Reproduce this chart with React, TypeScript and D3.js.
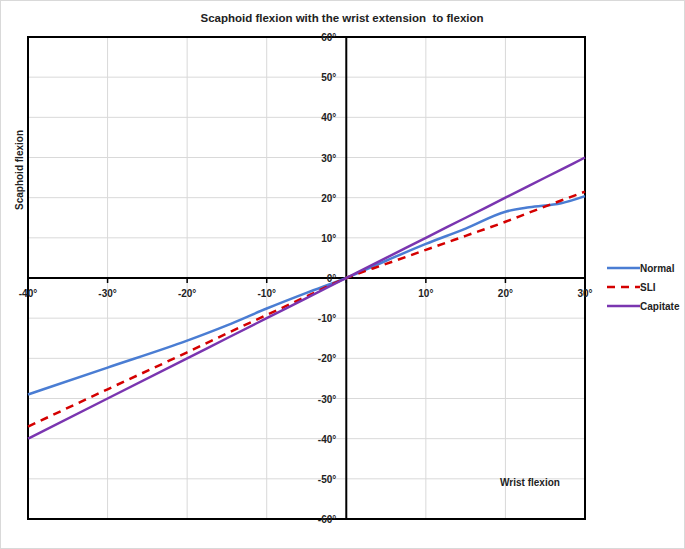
import React, { useRef, useEffect } from "react";
import * as d3 from "d3";

const wristAngles = [-40, -30, -20, -15, -10, -5, 0, 5, 10, 15, 20, 23, 27, 30];
const normalValues = [-29, -22.3, -15.6, -11.8, -7.6, -3.7, 0, 4.3, 8.5, 12.3, 16.5, 17.6, 18.6, 20.4];
const sliValues = [-37, -27.7, -18.5, -13.8, -9.2, -4.6, 0, 3.5, 7, 10.5, 14, 16.3, 19.3, 21.5];
const capitateValues = [-40, -30, -20, -15, -10, -5, 0, 5, 10, 15, 20, 23, 27, 30];

const seriesNames = ["Normal", "SLI", "Capitate"];
const seriesColors = ["#4a7dd3", "#d40000", "#7a35b0"];
const xTicks = [-40, -30, -20, -10, 0, 10, 20, 30];
const yTicks = [-60, -50, -40, -30, -20, -10, 0, 10, 20, 30, 40, 50, 60];

const App = () => {
  const ref = useRef<SVGSVGElement>(null);

  useEffect(() => {
    const svg = d3.select(ref.current);
    svg.selectAll("*").remove();

    const width = 685;
    const height = 549;
    const margin = { top: 37, right: 100, bottom: 30, left: 28 };
    const font = "'Liberation Sans', Arial, sans-serif";

    svg.attr("width", width).attr("height", height).style("font-family", font);

    svg
      .append("rect")
      .attr("x", 0.5)
      .attr("y", 0.5)
      .attr("width", width - 1)
      .attr("height", height - 1)
      .attr("fill", "white")
      .attr("stroke", "#d9d9d9");

    const x = d3.scaleLinear().domain([-40, 30]).range([margin.left, width - margin.right]);
    const y = d3.scaleLinear().domain([-60, 60]).range([height - margin.bottom, margin.top]);

    // gridlines
    svg
      .append("g")
      .selectAll("line")
      .data(xTicks)
      .join("line")
      .attr("x1", (d) => x(d))
      .attr("x2", (d) => x(d))
      .attr("y1", y(60))
      .attr("y2", y(-60))
      .attr("stroke", "#d9d9d9");
    svg
      .append("g")
      .selectAll("line")
      .data(yTicks)
      .join("line")
      .attr("x1", x(-40))
      .attr("x2", x(30))
      .attr("y1", (d) => y(d))
      .attr("y2", (d) => y(d))
      .attr("stroke", "#d9d9d9");

    // plot border
    svg
      .append("rect")
      .attr("x", x(-40))
      .attr("y", y(60))
      .attr("width", x(30) - x(-40))
      .attr("height", y(-60) - y(60))
      .attr("fill", "none")
      .attr("stroke", "black")
      .attr("stroke-width", 2);

    // axes through the origin
    svg
      .append("line")
      .attr("x1", x(-40))
      .attr("x2", x(30))
      .attr("y1", y(0))
      .attr("y2", y(0))
      .attr("stroke", "black")
      .attr("stroke-width", 2);
    svg
      .append("line")
      .attr("x1", x(0))
      .attr("x2", x(0))
      .attr("y1", y(60))
      .attr("y2", y(-60))
      .attr("stroke", "black")
      .attr("stroke-width", 2);

    // tick marks on the x axis
    svg
      .append("g")
      .selectAll("line")
      .data(xTicks)
      .join("line")
      .attr("x1", (d) => x(d))
      .attr("x2", (d) => x(d))
      .attr("y1", y(0))
      .attr("y2", y(0) + 5)
      .attr("stroke", "black")
      .attr("stroke-width", 1.5);

    // tick labels
    svg
      .append("g")
      .selectAll("text")
      .data(yTicks)
      .join("text")
      .attr("x", x(0) - 10)
      .attr("y", (d) => y(d) + 4)
      .attr("text-anchor", "end")
      .attr("font-size", 10)
      .attr("font-weight", "bold")
      .attr("fill", "#222")
      .text((d) => `${d}°`);
    svg
      .append("g")
      .selectAll("text")
      .data(xTicks.filter((d) => d !== 0))
      .join("text")
      .attr("x", (d) => x(d))
      .attr("y", y(0) + 19)
      .attr("text-anchor", "middle")
      .attr("font-size", 10)
      .attr("font-weight", "bold")
      .attr("fill", "#222")
      .text((d) => `${d}°`);

    // series lines
    const allValues = [normalValues, sliValues, capitateValues];
    const line = d3
      .line<number>()
      .x((d, i) => x(wristAngles[i]))
      .y((d) => y(d))
      .curve(d3.curveMonotoneX);

    allValues.forEach((vals, i) => {
      svg
        .append("path")
        .datum(vals)
        .attr("d", line)
        .attr("fill", "none")
        .attr("stroke", seriesColors[i])
        .attr("stroke-width", 2.5)
        .attr("stroke-dasharray", i === 1 ? "8,6" : null);
    });

    // title and axis titles
    svg
      .append("text")
      .attr("x", 342)
      .attr("y", 22)
      .attr("text-anchor", "middle")
      .attr("font-size", 11.5)
      .attr("font-weight", "bold")
      .attr("fill", "#222")
      .style("white-space", "pre")
      .text("Scaphoid flexion with the wrist extension  to flexion");

    svg
      .append("text")
      .attr("transform", `translate(23,170) rotate(-90)`)
      .attr("text-anchor", "middle")
      .attr("font-size", 10)
      .attr("font-weight", "bold")
      .attr("fill", "#222")
      .text("Scaphoid flexion");

    svg
      .append("text")
      .attr("x", 530)
      .attr("y", 486)
      .attr("text-anchor", "middle")
      .attr("font-size", 10)
      .attr("font-weight", "bold")
      .attr("fill", "#222")
      .text("Wrist flexion");

    // legend
    const legend = svg
      .append("g")
      .selectAll("g")
      .data(seriesNames)
      .join("g")
      .attr("transform", (d, i) => `translate(607,${268 + i * 19})`);
    legend
      .append("line")
      .attr("x1", 0)
      .attr("x2", 33)
      .attr("stroke", (d, i) => seriesColors[i])
      .attr("stroke-width", 2.5)
      .attr("stroke-dasharray", (d, i) => (i === 1 ? "8,6" : null));
    legend
      .append("text")
      .attr("x", 33)
      .attr("y", 4)
      .attr("font-size", 10)
      .attr("font-weight", "bold")
      .attr("fill", "#222")
      .text((d) => d);
  }, []);

  return <svg ref={ref} style={{ position: "absolute", left: 0, top: 0 }}></svg>;
};

export default App;
